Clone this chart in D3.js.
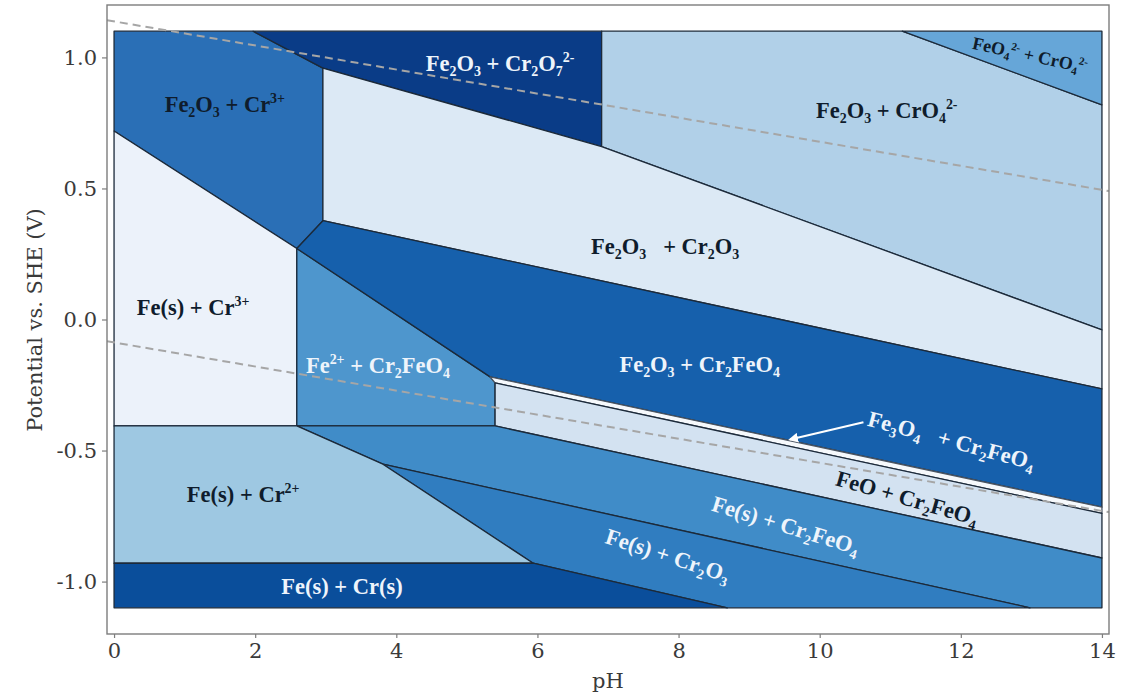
<!DOCTYPE html>
<html>
<head>
<meta charset="utf-8">
<script src="https://cdn.jsdelivr.net/npm/d3@7"></script>
<style>
  body { margin: 0; background: #ffffff; }
  svg { display: block; }
</style>
</head>
<body>
<svg id="chart" width="1135" height="695"></svg>
<script>
// ---- Pourbaix diagram of the Fe–Cr–H2O system (pH vs. potential) ----

// Axis ticks
const xTicks = [0, 2, 4, 6, 8, 10, 12, 14];
const yTicks = [-1.0, -0.5, 0.0, 0.5, 1.0];
const yTickLabels = ["-1.0", "-0.5", "0.0", "0.5", "1.0"];

// Phase names (formula markup: _x subscript, ^{..} superscript)
const phaseNames = [
  "Fe_2O_3 + Cr^{3+}",
  "Fe_2O_3 + Cr_2O_7^{2-}",
  "Fe_2O_3 + CrO_4^{2-}",
  "FeO_4^{2-} + CrO_4^{2-}",
  "Fe_2O_3   + Cr_2O_3",
  "Fe(s) + Cr^{3+}",
  "Fe^{2+} + Cr_2FeO_4",
  "Fe_2O_3 + Cr_2FeO_4",
  "Fe_3O_4   + Cr_2FeO_4",
  "FeO + Cr_2FeO_4",
  "Fe(s) + Cr_2FeO_4",
  "Fe(s) + Cr_2O_3",
  "Fe(s) + Cr^{2+}",
  "Fe(s) + Cr(s)"
];

// Stability-domain polygons, vertices as [pH, E (V vs. SHE)]
const domainFe2O3Cr3 = [[0, 1.1], [1.97, 1.1], [2.96, 0.959], [2.96, 0.377], [2.59, 0.271], [0, 0.719]];
const domainFe2O3Cr2O7 = [[1.97, 1.1], [6.91, 1.1], [6.91, 0.66], [2.96, 0.959]];
const domainFe2O3CrO4 = [[6.91, 1.1], [11.17, 1.1], [14, 0.819], [14, -0.04], [6.91, 0.66]];
const domainFeO4CrO4 = [[11.17, 1.1], [14, 1.1], [14, 0.819]];
const domainFe2O3Cr2O3 = [[2.96, 0.959], [6.91, 0.66], [14, -0.04], [14, -0.265], [2.96, 0.377]];
const domainFeCr3 = [[0, 0.719], [2.59, 0.271], [2.59, -0.406], [0, -0.406]];
const domainFe2Cr2FeO4 = [[2.59, 0.271], [5.33, -0.219], [5.40, -0.242], [5.40, -0.406], [2.59, -0.406]];
const domainFe2O3Cr2FeO4 = [[2.96, 0.377], [14, -0.265], [14, -0.716], [5.33, -0.219], [2.59, 0.271]];
const domainFe3O4Cr2FeO4 = [[5.33, -0.219], [14, -0.716], [14, -0.74], [5.40, -0.242]];
const domainFeOCr2FeO4 = [[5.40, -0.242], [14, -0.74], [14, -0.91], [5.40, -0.406]];
const domainFeCr2FeO4 = [[2.59, -0.406], [5.40, -0.406], [14, -0.91], [14, -1.1], [12.98, -1.1], [3.81, -0.552]];
const domainFeCr2O3 = [[3.81, -0.552], [12.98, -1.1], [8.69, -1.1], [5.94, -0.93]];
const domainFeCr2 = [[0, -0.406], [2.59, -0.406], [3.81, -0.552], [5.94, -0.93], [0, -0.93]];
const domainFeCr = [[0, -0.93], [5.94, -0.93], [8.69, -1.1], [0, -1.1]];

const domains = [
  domainFe2O3Cr3, domainFe2O3Cr2O7, domainFe2O3CrO4, domainFeO4CrO4,
  domainFe2O3Cr2O3, domainFeCr3, domainFe2Cr2FeO4, domainFe2O3Cr2FeO4,
  domainFe3O4Cr2FeO4, domainFeOCr2FeO4, domainFeCr2FeO4, domainFeCr2O3,
  domainFeCr2, domainFeCr
];

// Fill colour of each domain (Blues ramp)
const domainColors = [
  "#2a6fb6", "#0a3c87", "#b1d0e8", "#66a6d8",
  "#dce9f5", "#ecf2fa", "#4e96cd", "#1660ac",
  "#f6f9fc", "#d3e2f1", "#408cc8", "#307dc0",
  "#9ec8e2", "#0a4e9b"
];

// Label anchor [pH, E], rotation (deg) and ink colour for each domain
const labelAt = [
  [1.57, 0.822], [5.47, 0.979], [10.95, 0.80], [12.98, 1.01],
  [7.81, 0.28], [1.12, 0.048], [3.74, -0.174], [8.30, -0.17],
  [11.87, -0.46], [11.24, -0.68], [9.52, -0.784], [7.85, -0.899],
  [1.83, -0.666], [3.23, -1.017]
];
const labelAngle = [0, 0, 0, 12, 0, 0, 0, 0, 15, 16, 17, 18, 0, 0];
const labelDark = [true, false, true, true, true, true, false, false, false, true, false, false, true, false];

// Water stability lines (O2/H2O above, H2O/H2 below)
const waterUpper = [[-0.1, 1.142], [14.1, 0.490]];
const waterLower = [[-0.1, -0.083], [14.1, -0.735]];

// Pointer to the narrow Fe3O4 + Cr2FeO4 band
const pointerLine = [[10.62, -0.392], [9.58, -0.458]];

// ---- drawing ----
const svg = d3.select("#chart");
const x = d3.scaleLinear().domain([-0.1, 14.1]).range([107, 1109]);
const y = d3.scaleLinear().domain([-1.2, 1.2]).range([634, 5]);

const line = d3.line().x(d => x(d[0])).y(d => y(d[1]));

svg.append("rect").attr("width", 1135).attr("height", 695).attr("fill", "#ffffff");

svg.append("defs").append("clipPath").attr("id", "plotClip")
  .append("rect").attr("x", 107).attr("y", 5).attr("width", 1002).attr("height", 629);

const plot = svg.append("g").attr("clip-path", "url(#plotClip)");

plot.selectAll("path.domain-area")
  .data(domains)
  .join("path")
  .attr("class", "domain-area")
  .attr("d", d => line(d) + "Z")
  .attr("fill", (d, i) => domainColors[i])
  .attr("stroke", (d, i) => i === 8 ? "#4a5563" : "#1c2a3a")
  .attr("stroke-width", 1.3)
  .attr("stroke-linejoin", "round");

[waterUpper, waterLower].forEach(seg => {
  plot.append("path")
    .attr("d", line(seg))
    .attr("fill", "none")
    .attr("stroke", "#a6a6a6")
    .attr("stroke-width", 2)
    .attr("stroke-dasharray", "8,5");
});

// Chemical formula renderer
function tokens(str) {
  const out = [];
  let buf = "";
  let i = 0;
  const flush = () => { if (buf) { out.push({ t: buf, k: "n" }); buf = ""; } };
  while (i < str.length) {
    const c = str[i];
    if (c === "_" || c === "^") {
      flush();
      let t;
      if (str[i + 1] === "{") {
        const j = str.indexOf("}", i + 2);
        t = str.slice(i + 2, j);
        i = j + 1;
      } else {
        t = str[i + 1];
        i += 2;
      }
      out.push({ t, k: c === "_" ? "sub" : "sup" });
    } else {
      buf += c;
      i++;
    }
  }
  flush();
  return out;
}

function formula(textSel, str, size) {
  let off = 0;
  tokens(str).forEach(p => {
    const target = p.k === "sub" ? size * 0.22 : p.k === "sup" ? -size * 0.4 : 0;
    textSel.append("tspan")
      .attr("dy", (target - off).toFixed(2))
      .attr("font-size", p.k === "n" ? size : size * 0.62)
      .text(p.t);
    off = target;
  });
}

const labels = svg.append("g")
  .attr("font-family", "'Liberation Serif', 'Times New Roman', serif")
  .attr("font-weight", "bold");

phaseNames.forEach((name, i) => {
  const size = i === 3 ? 18 : 22.5;
  const t = labels.append("text")
    .attr("transform", `translate(${x(labelAt[i][0])},${y(labelAt[i][1])}) rotate(${labelAngle[i]})`)
    .attr("y", size * 0.35)
    .attr("text-anchor", "middle")
    .attr("fill", labelDark[i] ? "#0f1c2c" : "#eef4fb")
    .style("white-space", "pre");
  formula(t, name, size);
});

// pointer arrow
const defs = svg.select("defs");
defs.append("marker")
  .attr("id", "head")
  .attr("viewBox", "0 0 10 10")
  .attr("refX", 8).attr("refY", 5)
  .attr("markerWidth", 5).attr("markerHeight", 5)
  .attr("orient", "auto")
  .append("path").attr("d", "M0,0 L10,5 L0,10 Z").attr("fill", "#ffffff");

svg.append("path")
  .attr("d", line(pointerLine))
  .attr("stroke", "#ffffff")
  .attr("stroke-width", 2)
  .attr("fill", "none")
  .attr("marker-end", "url(#head)");

// frame
svg.append("rect")
  .attr("x", 107).attr("y", 5).attr("width", 1002).attr("height", 629)
  .attr("fill", "none").attr("stroke", "#7d7d7d").attr("stroke-width", 1.4);

// axes
const axisFont = "'DejaVu Serif', serif";
const gx = svg.append("g").attr("transform", "translate(0,634)")
  .call(d3.axisBottom(x).tickValues(xTicks).tickFormat(d3.format("d")).tickSize(4).tickPadding(5));
const gy = svg.append("g").attr("transform", "translate(107,0)")
  .call(d3.axisLeft(y).tickValues(yTicks).tickFormat((d, i) => yTickLabels[i]).tickSize(5).tickPadding(5));

[gx, gy].forEach(g => {
  g.select(".domain").remove();
  g.selectAll(".tick line").attr("stroke", "#7d7d7d").attr("stroke-width", 1.2);
  g.selectAll(".tick text")
    .attr("font-family", axisFont)
    .attr("font-size", 21)
    .attr("fill", "#3a3a3a");
});

svg.append("text")
  .attr("x", 608).attr("y", 688)
  .attr("text-anchor", "middle")
  .attr("font-family", axisFont).attr("font-size", 21).attr("fill", "#3a3a3a")
  .text("pH");

svg.append("text")
  .attr("transform", "translate(42,320) rotate(-90)")
  .attr("text-anchor", "middle")
  .attr("font-family", axisFont).attr("font-size", 21).attr("fill", "#3a3a3a")
  .text("Potential vs. SHE (V)");
</script>
</body>
</html>
